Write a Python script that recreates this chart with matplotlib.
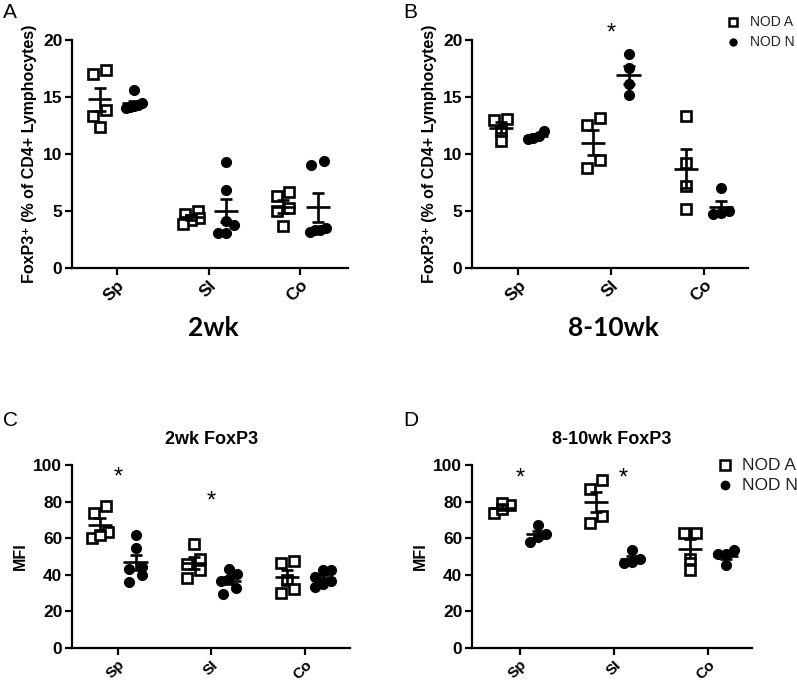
import matplotlib.pyplot as plt
import numpy as np

plt.rcParams['font.family'] = ['Liberation Sans', 'DejaVu Sans']

# Catégories et valeurs
categories = ['Sp', 'SI', 'Co']

# A : FoxP3+ (% des CD4+), 2 semaines
a_nod_a = [[17.0, 17.4, 13.9, 13.3, 12.4], [5.0, 4.7, 4.4, 4.2, 3.9], [6.3, 6.7, 5.3, 5.0, 3.65]]
a_nod_n = [[15.6, 14.5, 14.3, 14.2, 14.1, 14.0], [9.26, 6.8, 4.15, 3.8, 3.07, 3.07],
           [9.4, 9.05, 3.5, 3.35, 3.35, 3.2]]

# B : FoxP3+ (% des CD4+), 8-10 semaines
b_nod_a = [[13.1, 13.0, 12.0, 11.1], [13.2, 12.5, 9.5, 8.8], [13.3, 9.2, 7.15, 5.2]]
b_nod_n = [[12.0, 11.6, 11.4, 11.3], [18.8, 17.5, 16.1, 15.2], [7.0, 5.0, 4.8, 4.7]]

# C : MFI FoxP3, 2 semaines
c_nod_a = [[77.5, 74.0, 63.5, 60.0, 62.0], [57.0, 48.8, 45.8, 42.5, 38.0], [47.6, 46.7, 37.3, 32.3, 30.0]]
c_nod_n = [[61.9, 54.8, 44.5, 43.4, 40.0, 36.3], [43.0, 40.4, 37.5, 36.8, 32.9, 29.6],
           [42.7, 42.5, 38.6, 36.8, 35.0, 33.6]]

# D : MFI FoxP3, 8-10 semaines
d_nod_a = [[78.0, 79.5, 73.6, 76.0], [91.6, 87.1, 71.9, 68.3], [62.7, 62.7, 48.9, 42.7]]
d_nod_n = [[67.2, 62.4, 60.6, 57.9], [53.4, 48.9, 47.1, 46.2], [53.4, 51.6, 51.3, 45.3]]

# étoiles de significativité : (catégorie, hauteur)
b_stars = [(1, 20.6)]
c_stars = [(0, 93.4), (1, 79.9)]
d_stars = [(0, 92.8), (1.1, 92.8)]

W, H = 797, 681
fig = plt.figure(figsize=(W / 100, H / 100), dpi=100)


def make_ax(left, right, top, bottom):
    return fig.add_axes([left / W, 1 - bottom / H, (right - left) / W, (bottom - top) / H])


def swarm_offsets(ax, vals, size_px, max_px=16):
    # regroupe les points proches en rangées, centrées horizontalement
    vals = np.asarray(vals, dtype=float)
    order = np.argsort(vals)
    ypix = ax.transData.transform(np.column_stack([np.zeros_like(vals), vals]))[:, 1]
    x0 = ax.transData.transform([[0, 0]])[0, 0]
    x1 = ax.transData.transform([[1, 0]])[0, 0]
    px_per_x = x1 - x0
    offs = np.zeros_like(vals)
    rows = []
    for i in order:
        if rows and ypix[i] - ypix[rows[-1][0]] < size_px * 0.8:
            rows[-1].append(i)
        else:
            rows.append([i])
    for row in rows:
        n = len(row)
        step = size_px * 1.2 if n < 2 else min(size_px * 1.2, max_px / (n - 1))
        for k, i in enumerate(row):
            offs[i] = (k - (n - 1) / 2) * step / px_per_x
    return offs


def draw_group(ax, x, vals, marker):
    offs = swarm_offsets(ax, vals, 10.5)
    if marker == 's':
        ax.plot(x + offs, vals, 's', ms=7.4, mfc='white', mec='black', mew=1.9, ls='none', zorder=3)
    else:
        ax.plot(x + offs, vals, 'o', ms=7.0, color='black', ls='none', zorder=3)
    m = np.mean(vals)
    sem = np.std(vals, ddof=1) / np.sqrt(len(vals))
    ax.hlines(m, x - 0.13, x + 0.13, color='black', lw=1.9, zorder=4)
    ax.errorbar(x, m, yerr=sem, fmt='none', ecolor='black', elinewidth=1.9, capsize=4.5,
                capthick=1.9, zorder=4)


def panel(ax, nod_a, nod_n, ylim, yticks, ylabel, xlim, stars=(), xfs=12.5):
    ax.set_xlim(*xlim)
    ax.set_ylim(*ylim)
    for s in ['top', 'right']:
        ax.spines[s].set_visible(False)
    for s in ['left', 'bottom']:
        ax.spines[s].set_linewidth(1.6)
    ax.set_yticks(yticks)
    ax.set_xticks(range(len(categories)))
    ax.set_xticklabels(categories, rotation=45, ha='right', rotation_mode='anchor')
    ax.tick_params(width=1.6, length=5, labelsize=12.5, pad=2)
    ax.tick_params(axis='x', labelsize=xfs)
    for lab in ax.get_xticklabels() + ax.get_yticklabels():
        lab.set_fontweight('bold')
    ax.set_ylabel(ylabel, fontsize=11.5, fontweight='bold', labelpad=4)
    for i in range(len(categories)):
        draw_group(ax, i - 0.19, nod_a[i], 's')
        draw_group(ax, i + 0.19, nod_n[i], 'o')
    for cx, cy in stars:
        ax.text(cx, cy, '*', ha='center', va='center', fontsize=17)


ylab_pct = 'FoxP3\u207a (% of CD4+ Lymphocytes)'

ax_a = make_ax(72, 348, 40, 268)
panel(ax_a, a_nod_a, a_nod_n, (0, 20), [0, 5, 10, 15, 20], ylab_pct, (-0.49, 2.52))

ax_b = make_ax(472, 748, 40, 268)
panel(ax_b, b_nod_a, b_nod_n, (0, 20), [0, 5, 10, 15, 20], ylab_pct, (-0.5, 2.48), b_stars)

ax_c = make_ax(72, 350, 465, 648)
panel(ax_c, c_nod_a, c_nod_n, (0, 100), [0, 20, 40, 60, 80, 100], 'MFI', (-0.49, 2.48), c_stars, 11)

ax_d = make_ax(472, 752, 465, 648)
panel(ax_d, d_nod_a, d_nod_n, (0, 100), [0, 20, 40, 60, 80, 100], 'MFI', (-0.51, 2.47), d_stars, 11)

# titres et lettres des panneaux
fig.text(213 / W, 1 - 328 / H, '2wk', ha='center', va='center', fontsize=19,
         fontweight='bold', family=['Lato', 'DejaVu Sans'])
fig.text(613 / W, 1 - 328 / H, '8-10wk', ha='center', va='center', fontsize=19,
         fontweight='bold', family=['Lato', 'DejaVu Sans'])
fig.text(212 / W, 1 - 440 / H, '2wk FoxP3', ha='center', va='center', fontsize=13, fontweight='bold')
fig.text(612 / W, 1 - 440 / H, '8-10wk FoxP3', ha='center', va='center', fontsize=13, fontweight='bold')
for lx, ly, letter in [(3, 13, 'A'), (403, 13, 'B'), (3, 421, 'C'), (403, 421, 'D')]:
    fig.text(lx / W, 1 - ly / H, letter, ha='left', va='center', fontsize=15)

# légendes
for ax, x, y, fs, ms in [(ax_b, 733, 22, 10, 5.5), (ax_d, 725, 465, 12.5, 6.5)]:
    fig.lines.append(plt.Line2D([x / W], [1 - y / H], marker='s', ms=ms, mfc='white', mec='black',
                                mew=1.8, ls='none', transform=fig.transFigure))
    fig.lines.append(plt.Line2D([x / W], [1 - (y + 20) / H], marker='o', ms=ms - 0.5, color='black',
                                ls='none', transform=fig.transFigure))
    fig.text((x + 17) / W, 1 - y / H, 'NOD A', ha='left', va='center', fontsize=fs, color='#222222')
    fig.text((x + 17) / W, 1 - (y + 20) / H, 'NOD N', ha='left', va='center', fontsize=fs, color='#222222')

fig.savefig('out.png', dpi=100)
